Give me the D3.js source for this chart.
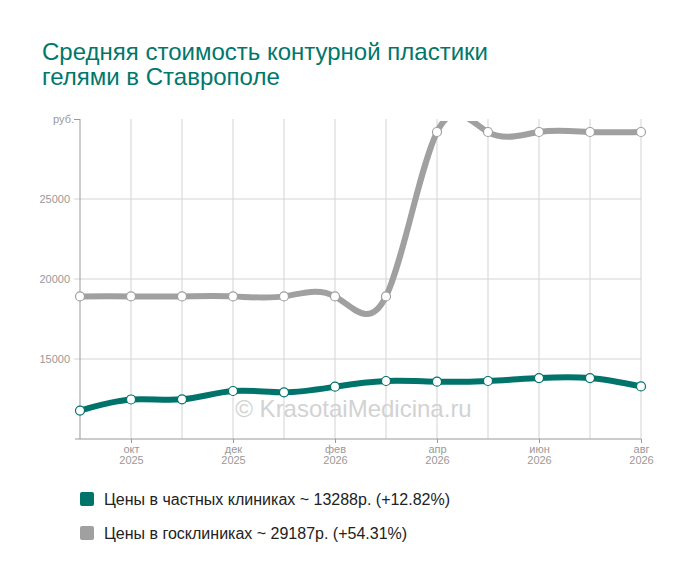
<!DOCTYPE html>
<html>
  <head>
    <meta charset="UTF-8" />
    <script src="https://cdn.jsdelivr.net/npm/d3@7"></script>
    <title>Средняя стоимость контурной пластики</title>
    <style type="text/css">
      body { margin: 0; background: #fff; font-family: "Liberation Sans", Arial, sans-serif; }
      .axis text { fill: #999; font-size: 11px; }
      .axis path, .axis line { stroke: #999; }
    </style>
  </head>
  <body>
    <div id="chartcontainer"></div>
    <script>
      // months shown on the x axis (labels only on every second one)
      var months = ["сен", "окт", "ноя", "дек", "янв", "фев", "мар", "апр", "май", "июн", "июл", "авг"];
      var years = ["2025", "2025", "2025", "2025", "2026", "2026", "2026", "2026", "2026", "2026", "2026", "2026"];
      // prices, rubles
      var privateClinics = [11778, 12470, 12480, 13000, 12920, 13270, 13625, 13580, 13625, 13810, 13810, 13288];
      var stateClinics = [18914, 18914, 18914, 18914, 18914, 18914, 18914, 29187, 29187, 29187, 29187, 29187];
      var yTicks = [15000, 20000, 25000];
      var legendItems = [
        { label: "Цены в частных клиниках ~ 13288р. (+12.82%)", color: "#00736a" },
        { label: "Цены в госклиниках ~ 29187р. (+54.31%)", color: "#a0a0a0" },
      ];

      var margin = { top: 119, right: 59, bottom: 143, left: 80 },
        width = 700 - margin.left - margin.right,
        height = 582 - margin.top - margin.bottom;

      var svg = d3
        .select("#chartcontainer")
        .append("svg")
        .attr("width", 700)
        .attr("height", 582);

      // title
      var title = svg
        .append("text")
        .attr("x", 42)
        .attr("y", 60)
        .attr("fill", "#00776b")
        .style("font-size", "24px");
      title.append("tspan").attr("x", 42).text("Средняя стоимость контурной пластики");
      title.append("tspan").attr("x", 42).attr("dy", 25).text("гелями в Ставрополе");

      var g = svg
        .append("g")
        .attr("transform", "translate(" + margin.left + "," + margin.top + ")");

      var x = d3.scaleLinear().domain([0, months.length - 1]).range([0, width]);
      var y = d3.scaleLinear().domain([10000, 30000]).range([height, 0]);

      // grid
      g.append("g")
        .selectAll("line")
        .data(d3.range(1, months.length))
        .join("line")
        .attr("x1", function (d) { return x(d); })
        .attr("x2", function (d) { return x(d); })
        .attr("y1", 0)
        .attr("y2", height)
        .attr("stroke", "#d3d3d3");
      g.append("g")
        .selectAll("line")
        .data(yTicks)
        .join("line")
        .attr("x1", -6)
        .attr("x2", width)
        .attr("y1", function (d) { return y(d); })
        .attr("y2", function (d) { return y(d); })
        .attr("stroke", "#d3d3d3");

      // watermark
      g.append("text")
        .attr("x", width / 2 - 7)
        .attr("y", 298)
        .attr("text-anchor", "middle")
        .attr("fill", "#d2d2d2")
        .style("font-size", "24px")
        .text("© KrasotaiMedicina.ru");

      // y axis
      var yAxis = g
        .append("g")
        .attr("class", "axis")
        .call(
          d3
            .axisLeft(y)
            .tickValues(yTicks.concat([30000]))
            .tickSize(0)
            .tickPadding(10)
            .tickFormat(function (d) { return d === 30000 ? "руб." : d; })
        );
      yAxis.select(".domain").attr("d", "M0,0V" + height);
      yAxis
        .selectAll(".tick")
        .filter(function (d) { return d === 30000; })
        .each(function () {
          d3.select(this).select("line").attr("x2", -6);
          d3.select(this).select("text").attr("x", -6);
        });

      // x axis
      var xAxis = g
        .append("g")
        .attr("class", "axis")
        .attr("transform", "translate(0," + height + ")")
        .call(
          d3
            .axisBottom(x)
            .tickValues(d3.range(1, months.length, 2))
            .tickSize(4)
            .tickFormat("")
        );
      xAxis.select(".domain").attr("d", "M-5,0H" + width);
      xAxis
        .selectAll(".tick")
        .append("text")
        .attr("y", 14)
        .attr("text-anchor", "middle")
        .each(function (d) {
          var t = d3.select(this);
          t.append("tspan").attr("x", 0).text(months[d]);
          t.append("tspan").attr("x", 0).attr("dy", 11).text(years[d]);
        });

      // clip for lines going above the chart
      svg
        .append("clipPath")
        .attr("id", "plotclip")
        .append("rect")
        .attr("x", -10)
        .attr("y", 2)
        .attr("width", width + 20)
        .attr("height", height + 20);

      var line = d3
        .line()
        .curve(d3.curveNatural)
        .x(function (d, i) { return x(i); })
        .y(function (d) { return y(d); });

      var series = [
        { values: stateClinics, color: "#a0a0a0" },
        { values: privateClinics, color: "#00736a" },
      ];

      series.forEach(function (s) {
        g.append("path")
          .datum(s.values)
          .attr("clip-path", "url(#plotclip)")
          .attr("fill", "none")
          .attr("stroke", s.color)
          .attr("stroke-width", 6)
          .attr("d", line);
        g.append("g")
          .selectAll("circle")
          .data(s.values)
          .join("circle")
          .attr("cx", function (d, i) { return x(i); })
          .attr("cy", function (d) { return y(d); })
          .attr("r", 4.5)
          .attr("fill", "#fff")
          .attr("stroke", s.color)
          .attr("stroke-width", 1.2);
      });

      // legend
      var legend = svg
        .append("g")
        .selectAll("g")
        .data(legendItems)
        .join("g")
        .attr("transform", function (d, i) { return "translate(80," + (492 + i * 34) + ")"; });
      legend
        .append("rect")
        .attr("width", 14)
        .attr("height", 14)
        .attr("rx", 2)
        .attr("fill", function (d) { return d.color; });
      legend
        .append("text")
        .attr("x", 24)
        .attr("y", 13)
        .attr("fill", "#222")
        .style("font-size", "16px")
        .text(function (d) { return d.label; });
    </script>
  </body>
</html>
